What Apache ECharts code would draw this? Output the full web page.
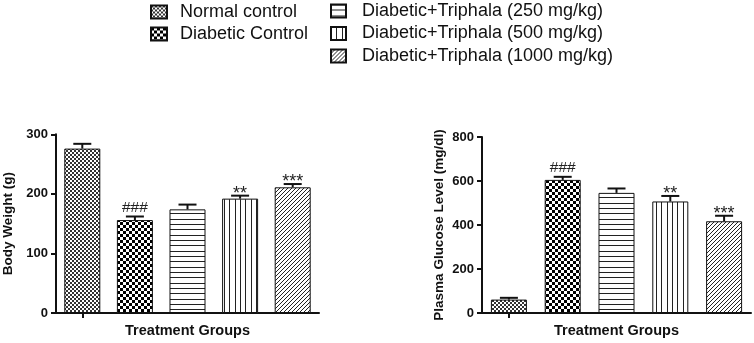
<!DOCTYPE html>
<html>
<head>
<meta charset="utf-8">
<script src="https://cdn.jsdelivr.net/npm/echarts@6/dist/echarts.min.js"></script>
<style>
html,body{margin:0;padding:0;background:#fff;}
#chart{width:754px;height:343px;}
</style>
</head>
<body>
<div id="chart"></div>
<script>
// ---- data ----
const groups = ['Normal control', 'Diabetic Control', 'Diabetic+Triphala (250 mg/kg)', 'Diabetic+Triphala (500 mg/kg)', 'Diabetic+Triphala (1000 mg/kg)'];
const bodyWeight = [276, 156, 174, 192, 211];
const bodyWeightErr = [8, 6, 8, 5, 5.5];
const bodyWeightSig = ['', '###', '', '**', '***'];
const glucose = [61, 605, 546, 507, 417];
const glucoseErr = [8, 14, 20, 25, 25];
const glucoseSig = ['', '###', '', '**', '***'];
const bodyWeightTicks = [0, 100, 200, 300];
const glucoseTicks = [0, 200, 400, 600, 800];

// ---- patterns ----
function makePattern(kind) {
  const c = document.createElement('canvas');
  let w = 4, h = 4;
  if (kind === 'checker') { w = 6; h = 6; }
  if (kind === 'hlines') { w = 4; h = 16; }
  if (kind === 'vlines') { w = 16; h = 4; }
  if (kind === 'diag') { w = 8; h = 8; }
  c.width = w; c.height = h;
  const ctx = c.getContext('2d');
  ctx.fillStyle = '#fff';
  ctx.fillRect(0, 0, w, h);
  ctx.fillStyle = '#222';
  ctx.strokeStyle = '#222';
  if (kind === 'dither') {
    ctx.fillStyle = '#333';
    ctx.fillRect(0, 0, 2, 2);
    ctx.fillRect(2, 2, 2, 2);
  } else if (kind === 'checker') {
    ctx.fillStyle = '#000';
    ctx.fillRect(0, 0, 3, 3);
    ctx.fillRect(3, 3, 3, 3);
  } else if (kind === 'hlines') {
    [0, 5, 11].forEach(y => ctx.fillRect(0, y, w, 1));
  } else if (kind === 'vlines') {
    [0, 5, 11].forEach(x => ctx.fillRect(x, 0, 1, h));
  } else if (kind === 'diag') {
    ctx.lineWidth = 1;
    for (let k = -8; k <= 24; k += 4) {
      ctx.beginPath();
      ctx.moveTo(0, k);
      ctx.lineTo(k, 0);
      ctx.stroke();
    }
  }
  return { image: c, repeat: 'repeat' };
}
const patterns = [makePattern('dither'), makePattern('checker'), makePattern('hlines'), makePattern('vlines'), makePattern('diag')];

const FONT = 'Liberation Sans';

function barSeries(values, gi) {
  return groups.map((name, i) => ({
    name: name,
    type: 'bar',
    xAxisIndex: gi, yAxisIndex: gi,
    barWidth: 36,
    barGap: '-100%',
    data: groups.map((g, j) => j === i ? values[i] : '-'),
    itemStyle: { color: patterns[i], borderColor: '#111', borderWidth: 1 },
    emphasis: { disabled: true },
    animation: false
  }));
}

function errSeries(values, errs, sigs, gi) {
  return {
    type: 'custom',
    xAxisIndex: gi, yAxisIndex: gi,
    z: 10,
    animation: false,
    data: values.map((v, i) => [i, v, errs[i]]),
    renderItem: function (params, api) {
      const i = api.value(0), v = api.value(1), e = api.value(2);
      const base = api.coord([i, v]);
      const top = api.coord([i, v + e]);
      const half = 9;
      const lbl = sigs[params.dataIndex];
      const children = [
        { type: 'line', shape: { x1: base[0], y1: base[1], x2: top[0], y2: top[1] }, style: { stroke: '#111', lineWidth: 2 } },
        { type: 'line', shape: { x1: top[0] - half, y1: top[1], x2: top[0] + half, y2: top[1] }, style: { stroke: '#111', lineWidth: 2 } }
      ];
      if (lbl) {
        const star = lbl.indexOf('*') >= 0;
        children.push({
          type: 'text',
          style: {
            text: lbl, x: top[0], y: top[1] + (star ? 7 : -1),
            align: 'center', verticalAlign: 'bottom',
            fontFamily: FONT, fontSize: star ? 18 : 15.5, fill: '#222'
          }
        });
      }
      return { type: 'group', children: children };
    }
  };
}

function yAxis(gi, max, interval, name, nameGap) {
  return {
    type: 'value', gridIndex: gi, min: 0, max: max, interval: interval,
    name: name, nameLocation: 'middle', nameGap: nameGap,
    nameTextStyle: { fontFamily: FONT, fontWeight: 'bold', fontSize: 13.5, color: '#111' },
    axisLine: { show: true, lineStyle: { color: '#111', width: 2 } },
    axisTick: { show: true, length: 5, lineStyle: { color: '#111', width: 2 } },
    axisLabel: { fontFamily: FONT, fontWeight: 'bold', fontSize: 13, color: '#111', margin: 8 },
    splitLine: { show: false }
  };
}
function xAxis(gi) {
  return {
    type: 'category', gridIndex: gi, data: groups,
    name: 'Treatment Groups', nameLocation: 'middle', nameGap: 10,
    nameTextStyle: { fontFamily: FONT, fontWeight: 'bold', fontSize: 14.5, color: '#111', verticalAlign: 'top' },
    axisLine: { show: true, lineStyle: { color: '#111', width: 2 } },
    axisTick: { show: true, alignWithLabel: true, length: 5, lineStyle: { color: '#111', width: 2 } },
    axisLabel: { show: false },
    splitLine: { show: false }
  };
}

const chart = echarts.init(document.getElementById('chart'), null, { renderer: 'canvas' });
chart.setOption({
  backgroundColor: '#fff',
  animation: false,
  legend: [
    {
      orient: 'vertical', left: 150, top: 3, padding: 0, itemWidth: 16, itemHeight: 13, itemGap: 4,
      selectedMode: false, icon: 'rect',
      data: groups.slice(0, 2),
      textStyle: { fontFamily: FONT, fontSize: 18, lineHeight: 18, color: '#111', padding: [0, 0, 0, 8] }
    },
    {
      orient: 'vertical', left: 330, top: 2, padding: 0, itemWidth: 15, itemHeight: 13, itemGap: 4.5,
      selectedMode: false, icon: 'rect',
      data: groups.slice(2),
      textStyle: { fontFamily: FONT, fontSize: 18, lineHeight: 18, color: '#111', padding: [0, 0, 0, 11] }
    }
  ],
  grid: [
    { left: 50.5, top: 134.3, width: 268.5, height: 179 },
    { left: 482, top: 137, width: 269, height: 177.5 }
  ],
  xAxis: [xAxis(0), xAxis(1)],
  yAxis: [
    yAxis(0, bodyWeightTicks[bodyWeightTicks.length - 1], bodyWeightTicks[1] - bodyWeightTicks[0], 'Body Weight (g)', 41),
    yAxis(1, glucoseTicks[glucoseTicks.length - 1], glucoseTicks[1] - glucoseTicks[0], 'Plasma Glucose Level (mg/dl)', 35.5)
  ],
  series: [].concat(
    barSeries(bodyWeight, 0),
    barSeries(glucose, 1),
    [errSeries(bodyWeight, bodyWeightErr, bodyWeightSig, 0), errSeries(glucose, glucoseErr, glucoseSig, 1)]
  )
});
</script>
</body>
</html>
